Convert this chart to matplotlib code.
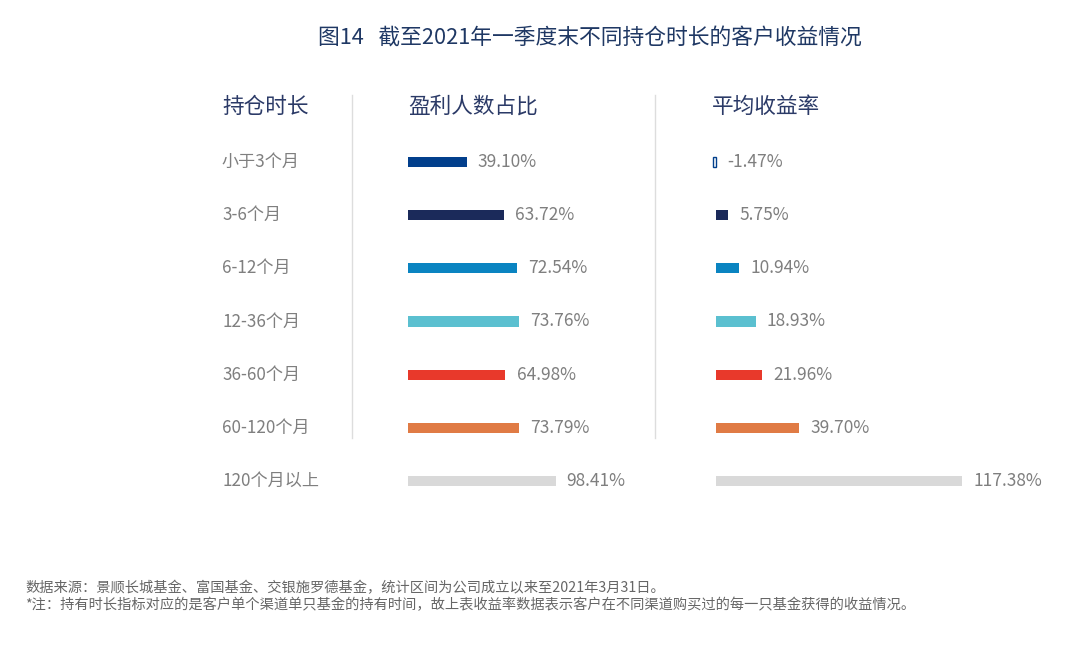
import matplotlib.pyplot as plt
from matplotlib.lines import Line2D
from matplotlib.transforms import blended_transform_factory

plt.rcParams['font.family'] = ['Noto Sans CJK SC', 'DejaVu Sans']

# 数据
periods = ['小于3个月', '3-6个月', '6-12个月', '12-36个月', '36-60个月', '60-120个月', '120个月以上']
profit_share = [39.10, 63.72, 72.54, 73.76, 64.98, 73.79, 98.41]
avg_return = [-1.47, 5.75, 10.94, 18.93, 21.96, 39.70, 117.38]
colors = ['#023f8c', '#1b2a5a', '#0a84c1', '#5bc0d0', '#e8392b', '#e07b45', '#d9d9d9']

W, H = 1080, 662
fig = plt.figure(figsize=(W / 100, H / 100), dpi=100)

navy = '#2b3a67'
grey = '#7f7f7f'

def fx(px):
    return px / W

def fy(py):
    return 1 - py / H

row_top, row_bot = 135.4, 507.6
bar_h = 0.19

# 左列：盈利人数占比
ax1 = fig.add_axes([fx(408), fy(row_bot), fx(220), (row_bot - row_top) / H])
ax1.barh(range(len(periods)), profit_share, height=bar_h, color=colors)
ax1.set_xlim(0, 220 / 1.5)

# 右列：平均收益率
ax2 = fig.add_axes([fx(700), fy(row_bot), fx(330), (row_bot - row_top) / H])
bars = ax2.barh(range(len(periods)), avg_return, height=bar_h, color=colors)
bars[0].set_facecolor('white')
bars[0].set_edgecolor(colors[0])
bars[0].set_linewidth(1.0)
ax2.set_xlim(-16 / 2.1, 314 / 2.1)

for ax, vals in [(ax1, profit_share), (ax2, avg_return)]:
    ax.set_ylim(len(periods) - 0.5, -0.5)
    ax.axis('off')
    for i, v in enumerate(vals):
        ax.annotate(f'{v:.2f}%', (max(v, 0), i), xytext=(8, 0), textcoords='offset points',
                    va='center', ha='left', fontsize=12.5, color=grey)

# 行标签
tr = blended_transform_factory(fig.transFigure, ax1.transData)
for i, p in enumerate(periods):
    fig.text(fx(222), i, p, transform=tr, va='center', ha='left', fontsize=12.3, color=grey)

# 表头
for x, t in [(222, '持仓时长'), (408, '盈利人数占比'), (712, '平均收益率')]:
    fig.text(fx(x), fy(107), t, va='center', ha='left', fontsize=15.6, color=navy)

# 分隔线
for x in [352, 655]:
    fig.add_artist(Line2D([fx(x), fx(x)], [fy(95), fy(438)], color='#dddddd', linewidth=1))

# 标题
fig.text(fx(590), fy(39), '图14   截至2021年一季度末不同持仓时长的客户收益情况',
         ha='center', va='center', fontsize=15.7, color='#1f3864')

# 注释
fig.text(fx(25), fy(588), '数据来源：景顺长城基金、富国基金、交银施罗德基金，统计区间为公司成立以来至2021年3月31日。',
         ha='left', va='center', fontsize=10.25, color='#666666')
fig.text(fx(25), fy(605), '*注：持有时长指标对应的是客户单个渠道单只基金的持有时间，故上表收益率数据表示客户在不同渠道购买过的每一只基金获得的收益情况。',
         ha='left', va='center', fontsize=10.25, color='#666666')

fig.savefig('out.png', dpi=100, facecolor='white')
